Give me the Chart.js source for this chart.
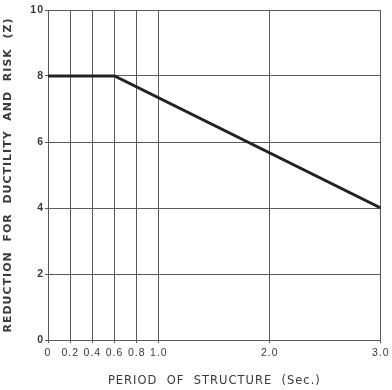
<!DOCTYPE html>
<html>
<head>
<meta charset="utf-8">
<script src="https://cdn.jsdelivr.net/npm/chart.js@4.4.0/dist/chart.umd.min.js"></script>
<style>
  html, body { margin: 0; padding: 0; background: #fff; }
  #wrap { width: 392px; height: 390px; }
</style>
</head>
<body>
<div id="wrap"><canvas id="myChart" width="392" height="390"></canvas></div>
<script>
// period (sec) vs reduction factor Z
const periods = [0, 0.6, 3.0]
const zValues = [8, 8, 4]

const xTicks = [0, 0.2, 0.4, 0.6, 0.8, 1.0, 2.0, 3.0]
const xTickLabels = ['0', '0.2', '0.4', '0.6', '0.8', '1.0', '2.0', '3.0']
const yTicks = [0, 2, 4, 6, 8, 10]
const yTickLabels = ['0', '2', '4', '6', '8', '10']

const ink = '#3a3a3a'
const gridInk = '#5a5a5a'

const points = periods.map((p, i) => ({ x: p, y: zValues[i] }))

// wider letters like the old drafted lettering
const spacing = {
    id: 'spacing',
    beforeDraw(chart) {
        chart.ctx.letterSpacing = '1px'
    }
}

const ctx = document.getElementById('myChart').getContext('2d')

new Chart(ctx, {
    type: 'line',
    data: {
        datasets: [{
            data: points,
            borderColor: '#222',
            borderWidth: 3,
            pointRadius: 0,
            tension: 0,
            fill: false
        }]
    },
    options: {
        responsive: false,
        animation: false,
        layout: { padding: { top: 10, right: 10, left: 0, bottom: 0 } },
        plugins: { legend: { display: false }, tooltip: { enabled: false } },
        scales: {
            x: {
                type: 'linear',
                min: 0,
                max: 3,
                afterBuildTicks: axis => { axis.ticks = xTicks.map(v => ({ value: v })) },
                afterFit: axis => { axis.height = 50 },
                ticks: {
                    autoSkip: false,
                    maxRotation: 0,
                    color: ink,
                    padding: 4,
                    font: { family: 'Liberation Sans', size: 10.5 },
                    callback: (v) => xTickLabels[xTicks.indexOf(v)]
                },
                grid: { color: gridInk, lineWidth: 1, tickLength: 3 },
                border: { color: gridInk, width: 1 },
                title: {
                    display: true,
                    text: 'PERIOD  OF  STRUCTURE  (Sec.)',
                    color: ink,
                    font: { family: 'DejaVu Sans', size: 11.5 },
                    padding: { top: 0, bottom: 2 }
                }
            },
            y: {
                type: 'linear',
                min: 0,
                max: 10,
                afterBuildTicks: axis => { axis.ticks = yTicks.map(v => ({ value: v })) },
                afterFit: axis => { axis.width = 48 },
                ticks: {
                    color: ink,
                    padding: 1,
                    font: { family: 'Liberation Sans', size: 10.5, weight: 'bold' },
                    callback: (v) => yTickLabels[yTicks.indexOf(v)]
                },
                grid: { color: gridInk, lineWidth: 1, tickLength: 3 },
                border: { color: gridInk, width: 1 },
                title: {
                    display: true,
                    text: 'REDUCTION  FOR  DUCTILITY  AND  RISK  (Z)',
                    color: ink,
                    font: { family: 'DejaVu Sans', size: 11, weight: 'bold' },
                    padding: { top: 2, bottom: 0 }
                }
            }
        }
    },
    plugins: [spacing]
})
</script>
</body>
</html>
